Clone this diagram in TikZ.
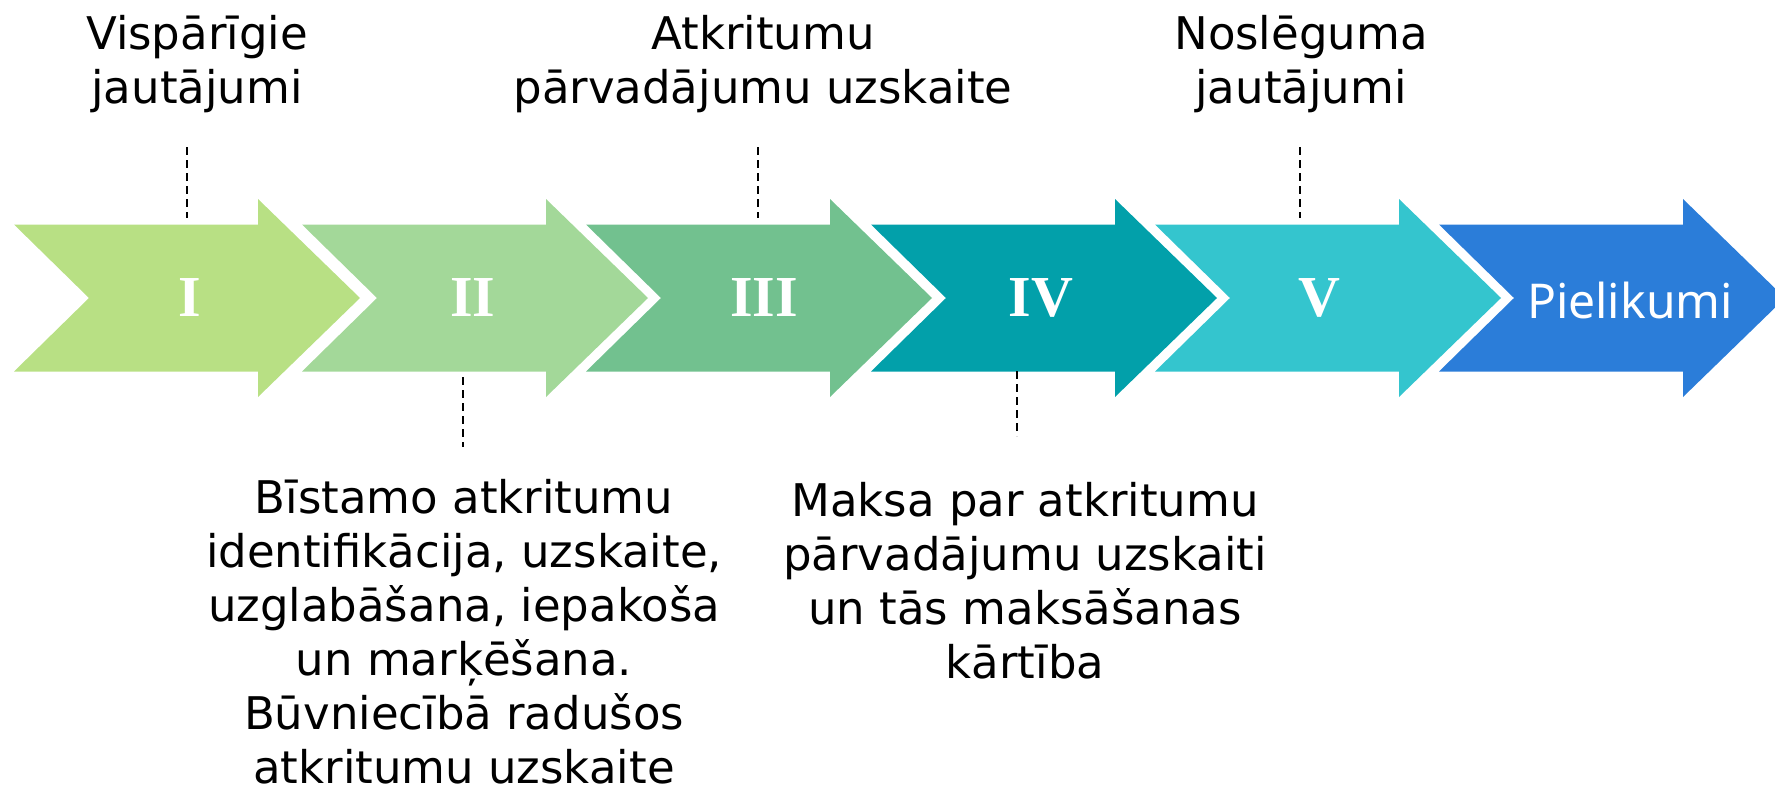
\documentclass[tikz,border=0pt]{standalone}
\usepackage{fontspec}
\setmainfont{DejaVu Sans}
\newfontfamily\numfont{Liberation Serif}
\newfontfamily\pielfont{Noto Sans}
\definecolor{cI}{HTML}{B8E084}
\definecolor{cII}{HTML}{A3D899}
\definecolor{cIII}{HTML}{72C18F}
\definecolor{cIV}{HTML}{02A0AA}
\definecolor{cV}{HTML}{34C5CE}
\definecolor{cVI}{HTML}{2B7DD9}
\begin{document}
\begin{tikzpicture}[x=1pt,y=-1pt,
  label/.style={font=\fontsize{45}{54}\selectfont, align=center, inner sep=0pt, anchor=north},
  numeral/.style={font=\numfont\bfseries\fontsize{58}{60}\selectfont, text=white, inner sep=0pt},
  guide/.style={draw=black, line width=1.6pt, dash pattern=on 8pt off 5pt}]
\useasboundingbox (0,0) rectangle (1775,792);
\clip (0,0) rectangle (1775,792);
% chevron arrows
\foreach \L/\col in {14/cI, 302/cII, 586/cIII, 871/cIV, 1155/cV, 1439/cVI}{
  \fill[\col] (\L,224.5) -- ({\L+244},224.5) -- ({\L+244},199) -- ({\L+346},298)
    -- ({\L+244},397) -- ({\L+244},371.5) -- (\L,371.5) -- ({\L+75},298) -- cycle;
}
% numerals
\node[numeral] (nI)   at (190,298)  {I};
\node[numeral] (nII)  at (473,298)  {II};
\node[numeral] (nIII) at (764,298)  {III};
\node[numeral] (nIV)  at (1041,298) {IV};
\node[numeral] (nV)   at (1319,298) {V};
\node[font=\pielfont\fontsize{48}{50}\selectfont, text=white, inner sep=0pt] (nVI) at (1630,300) {Pielikumi};
% labels
\node[label] (tI)   at (197,15)  {Vispārīgie\\jautājumi};
\node[label] (tIII) at (763,15)  {Atkritumu\\pārvadājumu uzskaite};
\node[label] (tV)   at (1301,15) {Noslēguma\\jautājumi};
\node[label] (bII)  at (464,479) {Bīstamo atkritumu\\identifikācija, uzskaite,\\uzglabāšana, iepakoša\\un marķēšana.\\Būvniecībā radušos\\atkritumu uzskaite};
\node[label] (bIV)  at (1025,482) {Maksa par atkritumu\\pārvadājumu uzskaiti\\un tās maksāšanas\\kārtība};
% guide coordinates
\coordinate (gIa) at (187,147);   \coordinate (gIb) at (187,218);
\coordinate (gIIIa) at (758,147); \coordinate (gIIIb) at (758,218);
\coordinate (gVa) at (1300,147);  \coordinate (gVb) at (1300,218);
\coordinate (gIIa) at (463,377);  \coordinate (gIIb) at (463,447);
\coordinate (gIVa) at (1017,371); \coordinate (gIVb) at (1017,436);
\draw[guide] (gIa) -- (gIb);
\draw[guide] (gIIIa) -- (gIIIb);
\draw[guide] (gVa) -- (gVb);
\draw[guide] (gIIa) -- (gIIb);
\draw[guide] (gIVa) -- (gIVb);
\end{tikzpicture}
\end{document}
